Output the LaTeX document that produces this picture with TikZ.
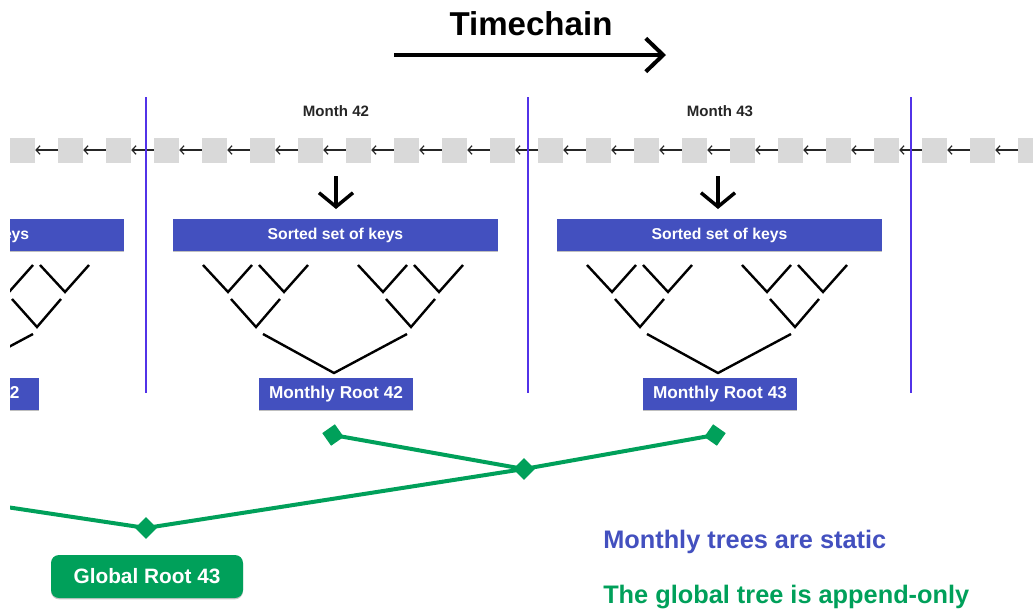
\documentclass[tikz,border=0pt]{standalone}
\usepackage{fontspec}
\setmainfont{Liberation Sans}
\usetikzlibrary{arrows.meta,shapes.geometric,shadows}
\definecolor{boxblue}{RGB}{67,80,191}
\definecolor{sepblue}{RGB}{82,50,232}
\definecolor{grn}{RGB}{0,160,90}
\definecolor{blockgray}{RGB}{217,217,217}
\newcommand\monthpart[4]{%
\begin{scope}[xshift={#1*0.75pt}]
 \node[keybox] (keys#2) at (335.5,235) {\raisebox{-1pt}{Sorted set of keys}};
 \node[rootbox] (mroot#2) at (336,394) {\hbox to 0pt{\hss\raisebox{-1pt}{Monthly Root #3}\hss\hskip #4}};
 \draw[treeline] (203,265) -- (228,292) -- (252,265);
 \draw[treeline] (259,265) -- (284,292) -- (308,265);
 \draw[treeline] (358,265) -- (383,292) -- (407,265);
 \draw[treeline] (414,265) -- (439,292) -- (463,265);
 \draw[treeline] (231,299) -- (256,327) -- (280,299);
 \draw[treeline] (386,299) -- (411,327) -- (435,299);
 \draw[treeline] (263,334) -- (334,373) -- (407,334);
\end{scope}}
\begin{document}
\begin{tikzpicture}[x=0.75pt,y=-0.75pt,
  sq/.style={fill=blockgray, minimum width=18.75pt, minimum height=18.75pt, inner sep=0pt,
    general shadow={fill=black!22, shadow yshift=-0.7pt}},
  chainarrow/.style={-{Straight Barb[length=3pt,width=6.5pt]}, line width=0.9pt, black!85},
  sepline/.style={draw=sepblue, line width=1.6pt},
  keybox/.style={fill=boxblue, text=white, font=\bfseries\fontsize{11.8pt}{14pt}\selectfont,
    minimum width=243.75pt, minimum height=24pt, inner sep=0pt,
    general shadow={fill=black!25, shadow yshift=-0.8pt}},
  rootbox/.style={fill=boxblue, text=white, font=\bfseries\fontsize{12.9pt}{15pt}\selectfont,
    minimum width=115.5pt, minimum height=24pt, inner sep=0pt,
    general shadow={fill=black!25, shadow yshift=-0.8pt}},
  treeline/.style={draw=black, line width=1.8pt},
  monthlabel/.style={text=black!85, font=\bfseries\fontsize{11.3pt}{13pt}\selectfont, inner sep=0pt},
  downarrow/.style={-{Straight Barb[length=10.5pt,width=25.5pt]}, line width=2.6pt, black},
  gline/.style={draw=grn, line width=3pt},
  gdiam/.style={diamond, fill=grn, minimum width=16.5pt, minimum height=16.5pt, inner sep=0pt},
  globalbox/.style={fill=grn, text=white, rounded corners=6pt, font=\bfseries\fontsize{15.6pt}{18pt}\selectfont,
    minimum width=144pt, minimum height=32.25pt, inner sep=0pt,
    general shadow={fill=black!22, shadow yshift=-1pt}},
  note/.style={font=\bfseries\fontsize{19pt}{23pt}\selectfont, inner sep=0pt, anchor=base west}
]
\useasboundingbox (0,0) rectangle (1033,612);

% title
\node[font=\bfseries\fontsize{24.8pt}{28pt}\selectfont, inner sep=0pt, anchor=base] (title) at (531,35) {Timechain};
\coordinate (tcA) at (394,55);
\coordinate (tcB) at (666,55);
\draw[-{Straight Barb[length=13pt,width=25pt]}, line width=3pt] (tcA) -- (tcB);

\begin{scope}
\clip (10,0) rectangle (1033,612);
% chain
\foreach \i in {0,...,22} {
  \node[sq] (b\i) at ({22.5+48*(\i-1)},150) {};
}
\foreach \i in {0,...,21} {
  \pgfmathtruncatemacro\j{\i+1}
  \draw[chainarrow] (b\j.west) -- (b\i.east);
}
% separators
\coordinate (s1t) at (146,97); \coordinate (s1b) at (146,393);
\coordinate (s2t) at (528,97); \coordinate (s2b) at (528,393);
\coordinate (s3t) at (911,97); \coordinate (s3b) at (911,393);
\draw[sepline] (s1t) -- (s1b);
\draw[sepline] (s2t) -- (s2b);
\draw[sepline] (s3t) -- (s3b);

% months
\node[monthlabel] (m42) at (336,111) {Month 42};
\node[monthlabel] (m43) at (720,111) {Month 43};
\coordinate (da1) at (336,176); \coordinate (db1) at (336,209);
\coordinate (da2) at (718,176); \coordinate (db2) at (718,209);
\draw[downarrow] (da1) -- (db1);
\draw[downarrow] (da2) -- (db2);

\monthpart{-374}{41}{42}{14pt}
\monthpart{0}{42}{42}{0pt}
\monthpart{384}{43}{43}{0pt}

% global tree
\coordinate (gl) at (-100,491);
\node[gdiam, rotate=-10] (gd1) at (333,435) {};
\node[gdiam, rotate=10] (gd2) at (715,435) {};
\node[gdiam] (gd3) at (524,469) {};
\node[gdiam] (gd4) at (146,528) {};
\draw[gline] (gd1.center) -- (gd3.center);
\draw[gline] (gd2.center) -- (gd3.center);
\draw[gline] (gd3.center) -- (gd4.center);
\draw[gline] (gd4.center) -- (gl);
\end{scope}

\node[globalbox] (groot) at (147,576.5) {Global Root 43};

\node[note, text=boxblue] (n1) at (603,548) {Monthly trees are static};
\node[note, text=grn] (n2) at (603,603) {The global tree is append-only};
\end{tikzpicture}
\end{document}
